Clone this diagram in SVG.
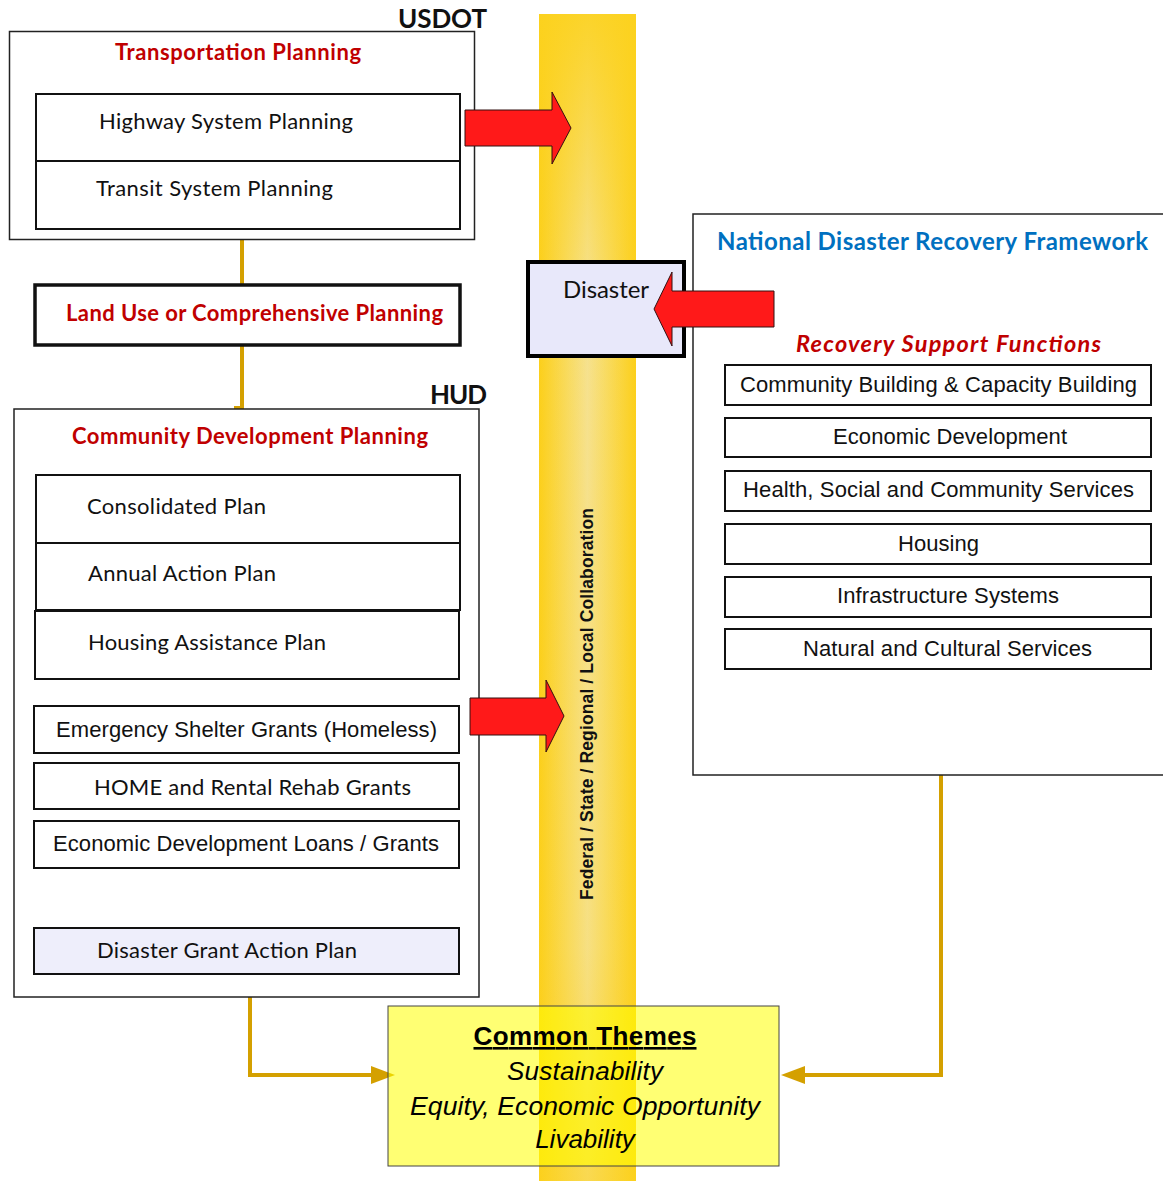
<svg xmlns="http://www.w3.org/2000/svg" width="1163" height="1181" viewBox="0 0 1163 1181">
<style>
.cal{font-family:Lato,"Open Sans","Liberation Sans",sans-serif}
.ar{font-family:"Liberation Sans",Arial,sans-serif}
.red{fill:#C00000;font-weight:bold}
.panel{fill:#fff;stroke:#222;stroke-width:1.5}
.box{fill:#fff;stroke:#111;stroke-width:2}
.lav{fill:#EEEEFB;stroke:#111;stroke-width:2}
.conn{fill:none;stroke:#D4A000;stroke-width:4;stroke-linejoin:miter}
.head{fill:#D4A000}
.arrow{fill:#FF1919;stroke:#331111;stroke-width:1}
.t22{font-size:22px}
.a22{font-size:22px}
</style>
<defs>
<linearGradient id="colH" x1="0" y1="0" x2="1" y2="0">
<stop offset="0" stop-color="#FCCF1A"/>
<stop offset="0.3" stop-color="#F8DC68"/>
<stop offset="0.5" stop-color="#F5E39C"/>
<stop offset="0.7" stop-color="#F8DC68"/>
<stop offset="1" stop-color="#FCCF1A"/>
</linearGradient>
<linearGradient id="colV" x1="0" y1="0" x2="0" y2="1">
<stop offset="0" stop-color="#FCD21E" stop-opacity="0.9"/>
<stop offset="0.25" stop-color="#FCD21E" stop-opacity="0.1"/>
<stop offset="0.8" stop-color="#FCD21E" stop-opacity="0.2"/>
<stop offset="1" stop-color="#FCD21E" stop-opacity="0.6"/>
</linearGradient>
</defs>

<g id="collaboration-column">
<rect x="539" y="14" width="97" height="1167" fill="url(#colH)"/>
<rect x="539" y="14" width="97" height="1167" fill="url(#colV)"/>
<text class="ar" font-weight="bold" font-size="17.5" transform="translate(593,704) rotate(-90)" text-anchor="middle" textLength="392" fill="#111">Federal / State / Regional / Local Collaboration</text>
</g>

<g id="connectors">
<path class="conn" d="M242,240 V285"/>
<path class="conn" d="M242,345 V408 H234"/>
<path class="conn" d="M250,997 V1075 H374"/>
<polygon class="head" points="371,1066 395,1075 371,1084"/>
<path class="conn" d="M941,775 V1075 H802"/>
<polygon class="head" points="805,1066 781,1075 805,1084"/>
</g>

<g id="usdot">
<text class="cal" x="398" y="28" font-size="26" font-weight="bold" fill="#111" textLength="89">USDOT</text>
<rect class="panel" x="9.5" y="31.5" width="465" height="208"/>
<text class="cal red t22" x="115" y="60" textLength="246">Transportation Planning</text>
</g>
<g id="highway">
<rect class="box" x="36" y="94" width="424" height="67"/>
<text class="cal t22" x="99" y="129" fill="#111" textLength="254">Highway System Planning</text>
</g>
<g id="transit">
<rect class="box" x="36" y="161" width="424" height="68"/>
<text class="cal t22" x="96" y="196" fill="#111" textLength="237">Transit System Planning</text>
</g>

<g id="landuse">
<rect x="35" y="285" width="425" height="60" fill="#fff" stroke="#111" stroke-width="3.5"/>
<text class="cal red t22" x="66" y="321" textLength="377">Land Use or Comprehensive Planning</text>
</g>

<g id="hud">
<text class="cal" x="430" y="404" font-size="26" font-weight="bold" fill="#111" textLength="57">HUD</text>
<rect class="panel" x="14" y="409" width="465" height="588" stroke-width="2"/>
<text class="cal red t22" x="72" y="444" textLength="356">Community Development Planning</text>
</g>
<g id="consolidated">
<rect class="box" x="36" y="475" width="424" height="68"/>
<text class="cal t22" x="87" y="514" fill="#111" textLength="179">Consolidated Plan</text>
</g>
<g id="annual">
<rect class="box" x="36" y="543" width="424" height="67"/>
<text class="cal t22" x="88" y="581" fill="#111" textLength="188">Annual Action Plan</text>
</g>
<g id="housing-assistance">
<rect class="box" x="35" y="611" width="424" height="68"/>
<text class="cal t22" x="88" y="650" fill="#111" textLength="238">Housing Assistance Plan</text>
</g>
<g id="emergency">
<rect class="box" x="34" y="706" width="425" height="47"/>
<text class="ar a22" x="56" y="737" fill="#111" textLength="381">Emergency Shelter Grants (Homeless)</text>
</g>
<g id="home">
<rect class="box" x="34" y="763" width="425" height="46"/>
<text class="cal t22" x="94" y="795" fill="#111" textLength="317">HOME and Rental Rehab Grants</text>
</g>
<g id="econ-loans">
<rect class="box" x="34" y="821" width="425" height="47"/>
<text class="ar a22" x="53" y="851" fill="#111" textLength="386">Economic Development Loans / Grants</text>
</g>
<g id="disaster-grant">
<rect class="lav" x="34" y="928" width="425" height="46"/>
<text class="cal t22" x="97" y="958" fill="#111" textLength="260">Disaster Grant Action Plan</text>
</g>

<g id="ndrf">
<rect class="panel" x="693" y="214" width="480" height="561" stroke-width="2"/>
<text class="cal" x="717" y="250" font-size="24" font-weight="bold" fill="#0070C0" textLength="431">National Disaster Recovery Framework</text>
<text class="cal red" x="796" y="352" font-size="23.5" font-style="italic" textLength="305">Recovery Support Functions</text>
</g>
<g id="rsf-community">
<rect class="box" x="725" y="365" width="426" height="40"/>
<text class="ar a22" x="740" y="392" fill="#111" textLength="397">Community Building &amp; Capacity Building</text>
</g>
<g id="rsf-economic">
<rect class="box" x="725" y="418" width="426" height="39"/>
<text class="ar a22" x="833" y="444" fill="#111" textLength="234">Economic Development</text>
</g>
<g id="rsf-health">
<rect class="box" x="725" y="471" width="426" height="40"/>
<text class="ar a22" x="743" y="497" fill="#111" textLength="391">Health, Social and Community Services</text>
</g>
<g id="rsf-housing">
<rect class="box" x="725" y="524" width="426" height="40"/>
<text class="ar a22" x="898" y="551" fill="#111" textLength="81">Housing</text>
</g>
<g id="rsf-infrastructure">
<rect class="box" x="725" y="577" width="426" height="40"/>
<text class="ar a22" x="837" y="603" fill="#111" textLength="222">Infrastructure Systems</text>
</g>
<g id="rsf-natural">
<rect class="box" x="725" y="629" width="426" height="40"/>
<text class="ar a22" x="803" y="656" fill="#111" textLength="289">Natural and Cultural Services</text>
</g>

<g id="disaster">
<rect x="528" y="262" width="156" height="94" fill="#E8E8FA" stroke="#000" stroke-width="4"/>
<text class="cal" x="563" y="298" font-size="24" fill="#111" textLength="86">Disaster</text>
</g>

<g id="red-arrows">
<path class="arrow" d="M465,110 H552 V92 L571,128 L552,164 V146 H465 Z"/>
<path class="arrow" d="M470,698 H546 V680 L564,716 L546,752 V735 H470 Z"/>
<path class="arrow" d="M774,291 H672 V272 L654,309 L672,346 V327 H774 Z"/>
</g>

<g id="common-themes">
<rect x="388" y="1006" width="391" height="160" fill="#FFFF00" fill-opacity="0.55" stroke="#444" stroke-width="1"/>
<text class="ar" x="585" y="1045" font-size="26" font-weight="bold" text-anchor="middle" text-decoration="underline" fill="#000" textLength="223">Common Themes</text>
<text class="ar" x="585" y="1080" font-size="26" font-style="italic" text-anchor="middle" fill="#000" textLength="156">Sustainability</text>
<text class="ar" x="585" y="1115" font-size="26.5" font-style="italic" text-anchor="middle" fill="#000" textLength="350">Equity, Economic Opportunity</text>
<text class="ar" x="585" y="1148" font-size="26" font-style="italic" text-anchor="middle" fill="#000">Livability</text>
</g>
</svg>
